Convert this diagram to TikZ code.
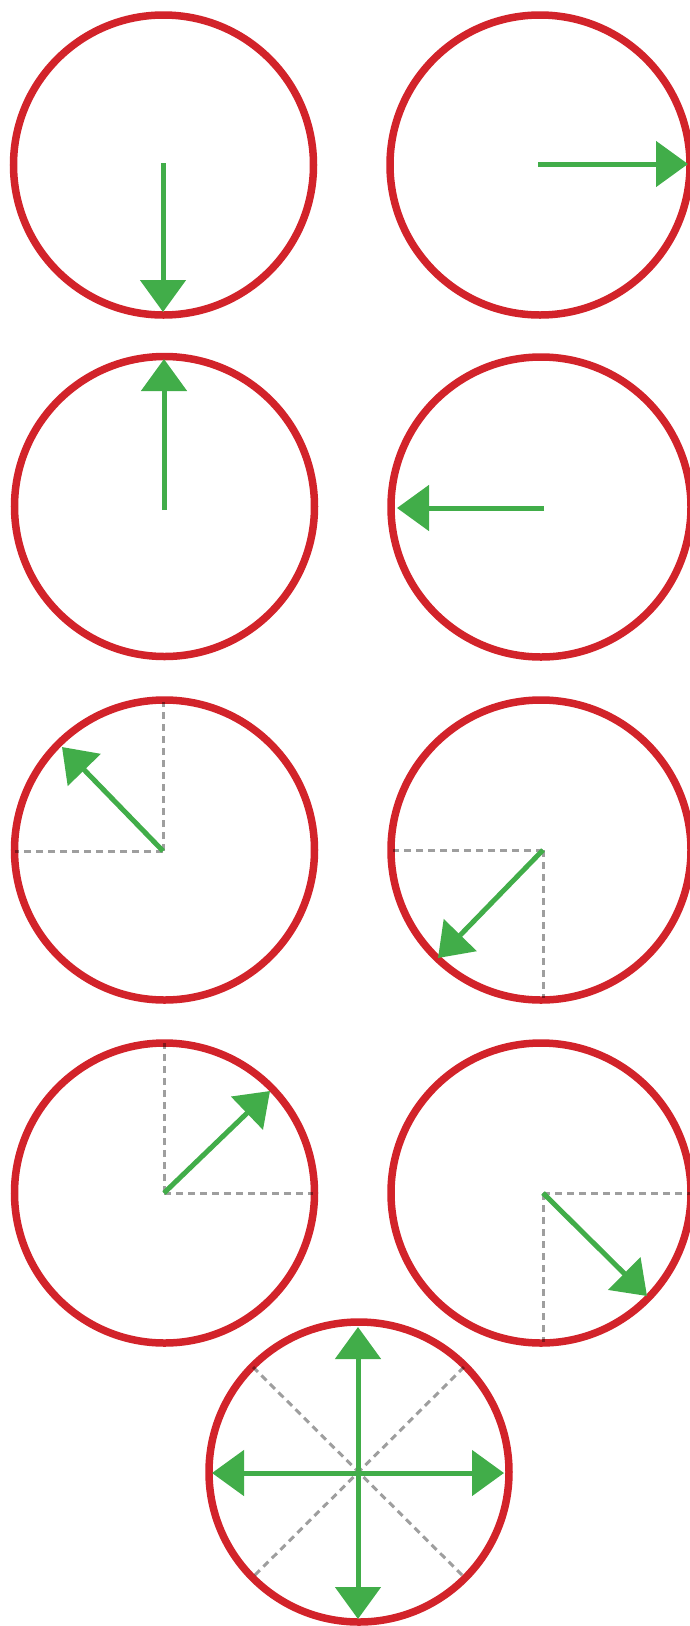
\documentclass[tikz,border=0pt]{standalone}
\usetikzlibrary{arrows.meta}
\definecolor{ringred}{HTML}{D2232A}
\definecolor{arrgreen}{HTML}{41AD49}
\tikzset{
  ring/.style={draw=ringred, line width=7.5pt},
  arr/.style={draw=arrgreen, line width=5pt, -{Triangle[length=32pt,width=45pt]}},
  guide/.style={draw=black, draw opacity=0.38, line width=3pt, dash pattern=on 7pt off 5pt}
}
\begin{document}
\begin{tikzpicture}[x=1pt,y=-1pt]
\useasboundingbox[fill=white] (0,0) rectangle (690,1626);
% centres
\coordinate (c1) at (163.5,165);
\coordinate (c2) at (540,165);
\coordinate (c3) at (164.5,506.5);
\coordinate (c4) at (541,507);
\coordinate (c5) at (164.5,850);
\coordinate (c6) at (541,850);
\coordinate (c7) at (164.5,1193);
\coordinate (c8) at (541,1193);
\coordinate (c9) at (359,1472);
% rings
\foreach \c in {c1,c2,c3,c4,c5,c6,c7,c8,c9}
  \draw[ring] (\c) circle[radius=150];
% guide lines
\coordinate (o5) at (163,851);
\coordinate (g5a) at (15,851);
\coordinate (g5b) at (163,702);
\draw[guide] (o5) -- (g5a);
\draw[guide] (o5) -- (g5b);
\coordinate (o6) at (543,850);
\coordinate (g6a) at (393,850);
\coordinate (g6b) at (543,998);
\draw[guide] (o6) -- (g6a);
\draw[guide] (o6) -- (g6b);
\coordinate (o7) at (164,1193);
\coordinate (g7a) at (164,1043);
\coordinate (g7b) at (313,1193);
\draw[guide] (o7) -- (g7a);
\draw[guide] (o7) -- (g7b);
\coordinate (o8) at (543,1193);
\coordinate (g8a) at (692,1193);
\coordinate (g8b) at (543,1342);
\draw[guide] (o8) -- (g8a);
\draw[guide] (o8) -- (g8b);
\coordinate (d1) at (253,1367);
\coordinate (d2) at (464,1577);
\coordinate (d3) at (464,1367);
\coordinate (d4) at (253,1577);
\draw[guide] (d1) -- (d2);
\draw[guide] (d3) -- (d4);
% arrows
\coordinate (a1s) at (163,163);  \coordinate (a1e) at (163,312);
\coordinate (a2s) at (538,164);  \coordinate (a2e) at (688,164);
\coordinate (a3s) at (164,510);  \coordinate (a3e) at (164,359);
\coordinate (a4s) at (544,508);  \coordinate (a4e) at (397,508);
\coordinate (a5e) at (62,747);
\coordinate (a6e) at (438,958);
\coordinate (a7e) at (270,1091);
\coordinate (a8e) at (647,1296);
\draw[arr] (a1s) -- (a1e);
\draw[arr] (a2s) -- (a2e);
\draw[arr] (a3s) -- (a3e);
\draw[arr] (a4s) -- (a4e);
\draw[arr] (o5) -- (a5e);
\draw[arr] (o6) -- (a6e);
\draw[arr] (o7) -- (a7e);
\draw[arr] (o8) -- (a8e);
\coordinate (o9) at (358,1473);
\coordinate (u9) at (358,1327);
\coordinate (b9) at (358,1619);
\coordinate (l9) at (212,1473);
\coordinate (r9) at (504,1473);
\draw[arr] (o9) -- (u9);
\draw[arr] (o9) -- (b9);
\draw[arr] (o9) -- (l9);
\draw[arr] (o9) -- (r9);
\end{tikzpicture}
\end{document}
